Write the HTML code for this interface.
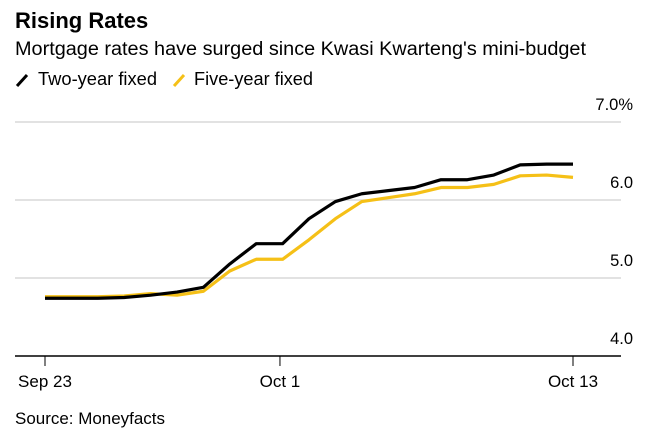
<!DOCTYPE html>
<html><head><meta charset="utf-8"><style>
body{margin:0;background:#fff;width:669px;height:437px;overflow:hidden;font-family:"Liberation Sans",Arial,sans-serif}
svg{display:block}
</style></head><body>
<svg width="669" height="437" font-family="Liberation Sans, Arial, sans-serif">
<text x="15" y="28" font-size="22" font-weight="bold" fill="#000">Rising Rates</text>
<text x="15" y="55" font-size="19" fill="#000" textLength="571" lengthAdjust="spacingAndGlyphs">Mortgage rates have surged since Kwasi Kwarteng's mini-budget</text>
<g>
<line x1="17" y1="86" x2="27" y2="75" stroke="#000" stroke-width="3"/>
<text x="38" y="85" font-size="18" fill="#000" textLength="119" lengthAdjust="spacingAndGlyphs">Two-year fixed</text>
<line x1="174" y1="86" x2="184" y2="75" stroke="#f5c017" stroke-width="3"/>
<text x="194" y="85" font-size="18" fill="#000" textLength="119" lengthAdjust="spacingAndGlyphs">Five-year fixed</text>
</g>
<g id="grid"></g>
<g id="series"></g>
<g id="xaxis"></g>
<text x="15" y="424" font-size="16.5" fill="#000" textLength="150" lengthAdjust="spacingAndGlyphs">Source: Moneyfacts</text>
</svg>
<script>
const days=[0,1,2,3,4,5,6,7,8,9,10,11,12,13,14,15,16,17,18,19,20];
const twoYear=[4.74,4.74,4.74,4.75,4.78,4.82,4.88,5.18,5.44,5.44,5.76,5.98,6.08,6.12,6.16,6.26,6.26,6.32,6.45,6.46,6.46];
const fiveYear=[4.76,4.76,4.76,4.77,4.80,4.78,4.83,5.09,5.24,5.24,5.49,5.76,5.98,6.03,6.08,6.16,6.16,6.20,6.31,6.32,6.29];
const yTicks=[4,5,6,7];
const yTickLabels=["4.0","5.0","6.0","7.0%"];
const xTicks=[0,8.9,20];
const xTickLabels=["Sep 23","Oct 1","Oct 13"];
const NS="http://www.w3.org/2000/svg";
const xs=d=>45+d*(573-45)/20;
const ys=v=>356-(v-4)*78;
function mk(tag,attrs,parent){const e=document.createElementNS(NS,tag);for(const k in attrs)e.setAttribute(k,attrs[k]);parent.appendChild(e);return e;}
const grid=document.getElementById('grid');
yTicks.forEach((t,i)=>{
  const y=ys(t);
  const l=mk('line',{x1:15,x2:621,y1:y,y2:y,stroke:i===0?'#000':'#d9d9d9','stroke-width':1.5},grid);
  
  
  const tx=mk('text',{x:633,y:y-12,'font-size':16.5,'text-anchor':'end',fill:'#000'},grid);
  tx.textContent=yTickLabels[i];
  
  
});
const series=document.getElementById('series');
[[fiveYear,'#f5c017','five-year-line'],[twoYear,'#000','two-year-line']].forEach(([vals,c,n])=>{
  const p=mk('polyline',{points:days.map((d,i)=>xs(d)+','+ys(vals[i])).join(' '),fill:'none',stroke:c,'stroke-width':3.2,'stroke-linejoin':'round'},series);
  
  
});
const xa=document.getElementById('xaxis');
xTicks.forEach((d,i)=>{
  const x=xs(d);
  const l=mk('line',{x1:x,x2:x,y1:356,y2:366,stroke:'#000','stroke-width':1},xa);
  
  
  const t=mk('text',{x:x,y:387,'font-size':17,'text-anchor':'middle',fill:'#000'},xa);
  t.textContent=xTickLabels[i];
  
  
});
</script>
</body></html>
